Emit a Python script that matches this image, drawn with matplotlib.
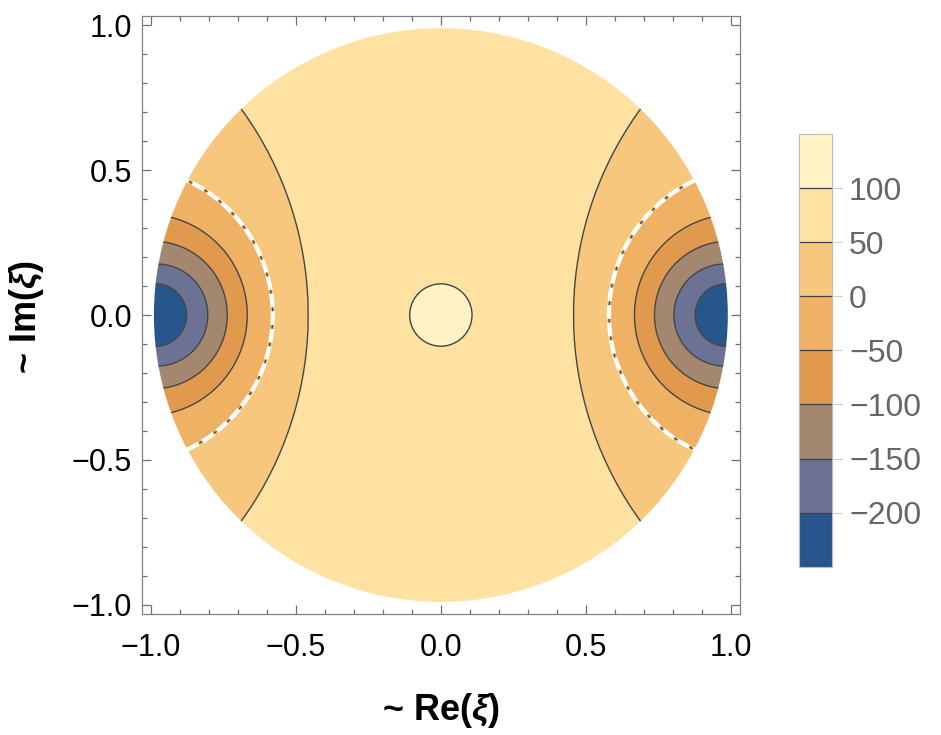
import numpy as np
import matplotlib
matplotlib.use("Agg")
import matplotlib.pyplot as plt
from matplotlib.patches import Circle
from matplotlib.ticker import MultipleLocator, FuncFormatter

plt.rcParams['font.family'] = ['Liberation Sans', 'DejaVu Sans']
plt.rcParams['mathtext.fontset'] = 'custom'
plt.rcParams['mathtext.rm'] = 'Liberation Sans:bold'
plt.rcParams['mathtext.it'] = 'Liberation Sans:italic:bold'

# contour levels near the edge (right half, mirrored on the left)
EDGE_LEVELS = [50, 0, -50, -100, -150, -200]
CROSS_X = [0.458, 0.580, 0.668, 0.737, 0.804, 0.877]   # where each contour crosses Im = 0
EDGE_Y = [0.711, 0.464, 0.337, 0.252, 0.176, 0.108]    # where each contour meets the rim
CENTER_LEVEL = 100
CENTER_R = 0.107
PEAK = 150
FLOOR = -250
DISK_R = 0.99

BAND_LEVELS = [-250, -200, -150, -100, -50, 0, 50, 100, 150]
BAND_COLORS = ["#27568c", "#6b7293", "#a4876f", "#e19a4d",
               "#efb164", "#f7c77e", "#fde2a2", "#fff3c6"]
CBAR_TICKS = [-200, -150, -100, -50, 0, 50, 100]
XTICKS = [-1.0, -0.5, 0.0, 0.5, 1.0]


def contour_circles():
    # each contour is taken as a circle centred on the real axis,
    # through its axis crossing and its end point on the rim
    u0 = np.array(CROSS_X)
    ve = np.array(EDGE_Y)
    ue = np.sqrt(DISK_R ** 2 - ve ** 2)
    c = (DISK_R ** 2 - u0 ** 2) / (2 * (ue - u0))
    r = c - u0
    return c, r


def make_field(X, Y):
    c, r = contour_circles()
    ax_ = np.abs(X)
    s = np.array([np.hypot(ax_ - c[k], Y) - r[k] for k in range(len(c))])
    rad = np.hypot(X, Y)
    dc = rad - CENTER_R
    with np.errstate(divide='ignore', invalid='ignore'):
        Z = EDGE_LEVELS[0] + (CENTER_LEVEL - EDGE_LEVELS[0]) * s[0] / (s[0] + dc)
        inside = dc < 0
        Z[inside] = (CENTER_LEVEL + (PEAK - CENTER_LEVEL) * (-dc / CENTER_R))[inside]
        n = len(c)
        for k in range(n):
            m = s[k] <= 0
            if k < n - 1:
                t = s[k] / (s[k] - s[k + 1])
                v = EDGE_LEVELS[k] + t * (EDGE_LEVELS[k + 1] - EDGE_LEVELS[k])
            else:
                t = np.clip(-s[k] / r[k], 0, 1)
                v = EDGE_LEVELS[k] + t * (FLOOR - EDGE_LEVELS[k])
            Z[m] = v[m]
    return Z


def fmt(v, pos):
    return f"{v:.1f}".replace("-", "\u2212")


def main():
    fig = plt.figure(figsize=(9.41, 7.35), dpi=100)
    ax = fig.add_axes([0.1506, 0.1646, 0.6358, 0.8136])

    g = np.linspace(-1.03, 1.03, 1031)
    X, Y = np.meshgrid(g, g)
    Z = make_field(X, Y)

    disk = Circle((0, 0), DISK_R, transform=ax.transData)
    cs = ax.contourf(X, Y, Z, levels=BAND_LEVELS, colors=BAND_COLORS, antialiased=True)
    cs.set_clip_path(disk)

    lines = ax.contour(X, Y, Z, levels=CBAR_TICKS, colors="#454545", linewidths=1.0,
                       negative_linestyles='solid')
    lines.set_clip_path(Circle((0, 0), DISK_R, transform=ax.transData))

    dash = ax.contour(X, Y, Z, levels=[0], colors="white", linewidths=3.1,
                      linestyles=[(0, (3.2, 0.9))])
    dash.set_clip_path(Circle((0, 0), 1.0, transform=ax.transData))

    lim = 1.032
    ax.set_xlim(-lim, lim)
    ax.set_ylim(-lim, lim)
    ax.set_xticks(XTICKS)
    ax.set_yticks(XTICKS)
    ax.xaxis.set_minor_locator(MultipleLocator(0.1))
    ax.yaxis.set_minor_locator(MultipleLocator(0.1))
    ax.xaxis.set_major_formatter(FuncFormatter(fmt))
    ax.yaxis.set_major_formatter(FuncFormatter(fmt))
    ax.tick_params(which='both', direction='in', top=True, right=True,
                   color="#707070", width=0.9)
    ax.tick_params(which='major', length=6.5, labelsize=22, labelcolor="black")
    ax.tick_params(axis='x', which='major', pad=14)
    ax.tick_params(axis='y', which='major', pad=7)
    ax.tick_params(which='minor', length=3.6)
    for sp in ax.spines.values():
        sp.set_color("#808080")
        sp.set_linewidth(0.9)

    fig.text(441 / 941, 1 - 711 / 735, r"~ Re($\xi$)", ha='center', va='center',
             fontsize=26, fontweight='bold')
    fig.text(27 / 941, 1 - 317 / 735, r"~ Im($\xi$)", ha='center', va='center',
             rotation=90, fontsize=26, fontweight='bold')

    cax = fig.add_axes([0.8494, 0.229, 0.0351, 0.5887])
    cb = fig.colorbar(cs, cax=cax, ticks=CBAR_TICKS)
    cb.outline.set_edgecolor("#bbbbbb")
    cb.outline.set_linewidth(0.8)
    for lv in CBAR_TICKS:
        cax.axhline(lv, color="#404040", lw=0.9)
    cax.tick_params(length=7, width=0.8, color="#cccccc", labelcolor="#666666",
                    labelsize=23, pad=5)
    cb.ax.yaxis.set_major_formatter(FuncFormatter(lambda v, p: f"{v:.0f}".replace("-", "\u2212")))

    fig.savefig("out.png", dpi=100)


if __name__ == "__main__":
    main()
